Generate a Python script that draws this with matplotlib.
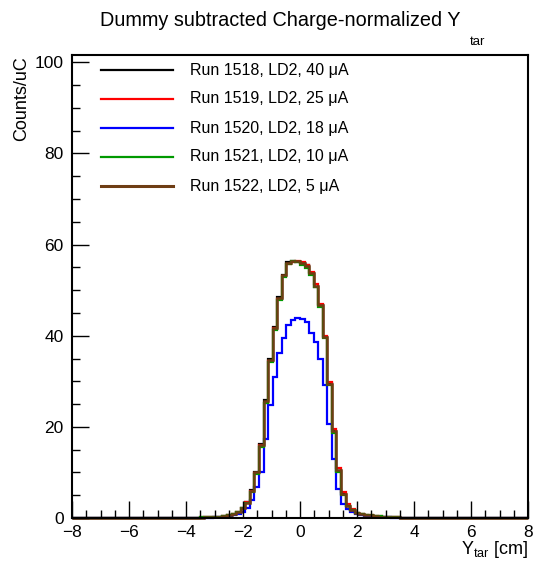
import numpy as np
import matplotlib
matplotlib.use("Agg")
import matplotlib.pyplot as plt
import matplotlib.ticker as ticker

plt.rcParams["font.family"] = ["Liberation Sans", "DejaVu Sans"]
plt.rcParams["mathtext.fontset"] = "custom"
plt.rcParams["mathtext.rm"] = "Liberation Sans"

# 100 bins of 0.16 cm from -8 to 8; values listed for the central region -4..4
bin_lo, bin_hi, n_bins = -8.0, 8.0, 100
n_pad = 25

run_labels = [
    "Run 1518, LD2, 40 \u03bcA",
    "Run 1519, LD2, 25 \u03bcA",
    "Run 1520, LD2, 18 \u03bcA",
    "Run 1521, LD2, 10 \u03bcA",
    "Run 1522, LD2, 5 \u03bcA",
]
run_colors = ["#000000", "#ff0000", "#0000ff", "#009900", "#6e3d14"]

run_1518 = [0.05, 0.06, 0.08, 0.10, 0.13, 0.16, 0.21, 0.28, 0.39, 0.56,
            0.92, 1.3, 2.3, 3.5, 6.1, 10.1, 16.3, 25.8, 34.9, 42.0,
            48.4, 53.4, 56.2, 56.5, 56.2, 55.9, 55.5, 53.8, 50.8, 46.8,
            39.8, 29.6, 19.1, 10.4, 5.2, 2.6, 1.7, 1.1, 0.9, 0.7,
            0.54, 0.42, 0.32, 0.25, 0.20, 0.15, 0.12, 0.09, 0.06, 0.04]
run_1519 = [0.05, 0.06, 0.08, 0.11, 0.12, 0.17, 0.21, 0.29, 0.40, 0.58,
            0.95, 1.4, 2.3, 3.6, 5.9, 9.8, 16.0, 25.3, 34.4, 41.7,
            48.0, 53.2, 55.8, 56.2, 56.4, 56.1, 55.6, 53.9, 51.3, 46.9,
            40.0, 29.8, 19.6, 11.0, 5.7, 3.0, 1.9, 1.2, 0.95, 0.72,
            0.57, 0.44, 0.33, 0.26, 0.20, 0.16, 0.12, 0.09, 0.06, 0.04]
run_1520 = [0.03, 0.04, 0.05, 0.06, 0.08, 0.10, 0.13, 0.18, 0.25, 0.35,
            0.55, 0.85, 1.3, 2.3, 3.9, 6.8, 10.0, 17.4, 24.7, 30.9,
            36.1, 39.6, 42.3, 43.4, 43.8, 43.6, 43.0, 40.5, 38.6, 35.0,
            29.1, 20.7, 13.0, 6.4, 3.1, 2.0, 1.3, 0.9, 0.65, 0.5,
            0.38, 0.28, 0.2, 0.15, 0.11, 0.08, 0.06, 0.04, 0.03, 0.02]
run_1521 = [0.06, 0.07, 0.09, 0.11, 0.14, 0.18, 0.23, 0.31, 0.42, 0.6,
            0.95, 1.35, 2.1, 3.3, 5.8, 9.6, 15.6, 25.2, 34.2, 41.3,
            47.8, 52.8, 55.7, 56.3, 56.1, 55.6, 54.9, 53.3, 50.6, 46.2,
            39.4, 29.1, 18.6, 10.0, 5.1, 2.6, 1.7, 1.15, 0.95, 0.75,
            0.58, 0.45, 0.35, 0.27, 0.22, 0.17, 0.13, 0.1, 0.07, 0.05]
run_1522 = [0.05, 0.06, 0.08, 0.10, 0.12, 0.16, 0.20, 0.28, 0.38, 0.55,
            0.90, 1.3, 2.2, 3.4, 6.0, 10.0, 16.1, 25.6, 34.6, 41.8,
            48.2, 53.3, 56.0, 56.4, 56.3, 56.0, 55.3, 53.7, 50.9, 46.7,
            39.7, 29.5, 19.2, 10.5, 5.3, 2.7, 1.7, 1.1, 0.9, 0.7,
            0.55, 0.42, 0.32, 0.25, 0.20, 0.15, 0.12, 0.09, 0.06, 0.04]
runs = [run_1518, run_1519, run_1520, run_1521, run_1522]

W, H = 541, 565
fig = plt.figure(figsize=(W / 100, H / 100), dpi=100)
ax = fig.add_axes([72 / W, 1 - 518 / H, 456 / W, 463 / H])

edges = np.linspace(bin_lo, bin_hi, n_bins + 1)
for vals, color in zip(runs, run_colors):
    counts = np.pad(np.asarray(vals, dtype=float), (n_pad, n_pad))
    lw = 1.8 if color == run_colors[-1] else 1.6
    ax.stairs(counts, edges, color=color, lw=lw, baseline=None, clip_on=False)

ax.set_xlim(bin_lo, bin_hi)
ax.set_ylim(0, 101.6)
ax.xaxis.set_major_locator(ticker.MultipleLocator(2))
ax.xaxis.set_minor_locator(ticker.MultipleLocator(0.5))
ax.yaxis.set_major_locator(ticker.MultipleLocator(20))
ax.yaxis.set_minor_locator(ticker.MultipleLocator(5))
ax.tick_params(which="both", direction="in", top=False, right=False, width=1.0,
               labelsize=12.5)
ax.tick_params(which="major", length=12)
ax.tick_params(which="minor", length=6)
ax.tick_params(axis="x", pad=5)
ax.tick_params(axis="y", pad=6)
for sp in ax.spines.values():
    sp.set_linewidth(1.5)

# legend, drawn by hand like the ROOT TLegend
for i, (label, color) in enumerate(zip(run_labels, run_colors)):
    y = 1 - (70 + 29 * i) / H
    lw = 2.2 if i == len(run_labels) - 1 else 1.6
    fig.add_artist(plt.Line2D([101 / W, 173 / W], [y, y], color=color, lw=lw))
    fig.text(190 / W, y, label, fontsize=11.5, va="center", ha="left")

fig.text(100 / W, 1 - 20 / H, "Dummy subtracted Charge-normalized Y", fontsize=14.3,
         va="center", ha="left")
fig.text(470 / W, 1 - 42 / H, "tar", fontsize=9.5, va="center", ha="left")

fig.text(22 / W, 1 - 56 / H, "Counts/uC", rotation=90, fontsize=13, va="top", ha="center")
fig.text(528 / W, 1 - 560 / H, r"Y$_{\mathrm{tar}}$ [cm]", fontsize=13, va="bottom", ha="right")

fig.savefig("out.png", dpi=100)
